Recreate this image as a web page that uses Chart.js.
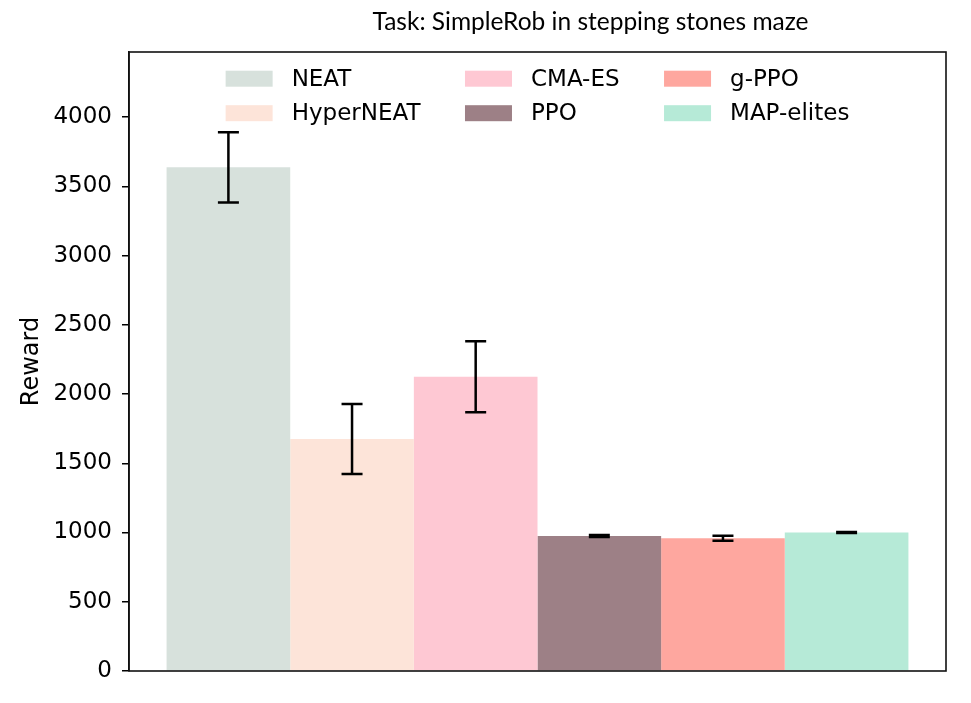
<!DOCTYPE html>
<html>
<head>
<meta charset="utf-8">
<script src="https://cdn.jsdelivr.net/npm/chart.js@4/dist/chart.umd.min.js"></script>
<style>
  html, body { margin: 0; padding: 0; background: #fff; }
  #wrap { width: 971px; height: 703px; }
</style>
</head>
<body>
<div id="wrap"><canvas id="rewardChart"></canvas></div>
<script>
// Data
const methods = ['NEAT', 'HyperNEAT', 'CMA-ES', 'PPO', 'g-PPO', 'MAP-elites'];
const rewards = [3637, 1675, 2125, 975, 958, 1000];
const rewardErr = [253, 253, 257, 8, 18, 3];
const barColors = ['#d7e1dc', '#fde4d9', '#fec8d3', '#9d8086', '#fea79f', '#b6ead7'];
const yTicks = [0, 500, 1000, 1500, 2000, 2500, 3000, 3500, 4000];
const yMax = 4470;
const titleText = 'Task: SimpleRob in stepping stones maze';
const yLabel = 'Reward';

const tickFont = '23px "DejaVu Sans"';

// error bars drawn on top of the bars
const errorBars = {
    id: 'errorBars',
    afterDatasetsDraw(chart) {
        const ctx = chart.ctx;
        const y = chart.scales.y;
        ctx.save();
        ctx.strokeStyle = '#000';
        ctx.lineWidth = 2.5;
        chart.data.datasets.forEach((ds, i) => {
            const bar = chart.getDatasetMeta(i).data[0];
            if (!bar) return;
            const v = ds.data[0];
            const e = rewardErr[i];
            const yTop = y.getPixelForValue(v + e);
            const yBot = y.getPixelForValue(v - e);
            const cap = 10.5;
            ctx.beginPath();
            ctx.moveTo(bar.x, yTop); ctx.lineTo(bar.x, yBot);
            ctx.moveTo(bar.x - cap, yTop); ctx.lineTo(bar.x + cap, yTop);
            ctx.moveTo(bar.x - cap, yBot); ctx.lineTo(bar.x + cap, yBot);
            ctx.stroke();
        });
        ctx.restore();
    }
};

// frame, title, y label and a matplotlib style legend (3 columns, column-major)
const decorations = {
    id: 'decorations',
    afterDraw(chart) {
        const ctx = chart.ctx;
        const a = chart.chartArea;
        ctx.save();

        // frame
        ctx.strokeStyle = '#111';
        ctx.lineWidth = 1.6;
        ctx.strokeRect(a.left, a.top, a.right - a.left, a.bottom - a.top);

        // title
        ctx.fillStyle = '#000';
        ctx.font = '24.5px Lato';
        ctx.textAlign = 'center';
        ctx.textBaseline = 'alphabetic';
        ctx.fillText(titleText, (a.left + a.right) / 2 + 53, 29.5);

        // y label
        ctx.save();
        ctx.translate(32, (a.top + a.bottom) / 2);
        ctx.rotate(-Math.PI / 2);
        ctx.font = '24px "DejaVu Sans"';
        ctx.textBaseline = 'middle';
        ctx.fillText(yLabel, 0, 0);
        ctx.restore();

        // legend
        ctx.font = tickFont;
        ctx.textAlign = 'left';
        ctx.textBaseline = 'middle';
        const swW = 47, swH = 16, gap = 19, colGap = 44.5, rowH = 34.5, nRows = 2;
        const nCols = Math.ceil(methods.length / nRows);
        const colW = [];
        for (let c = 0; c < nCols; c++) {
            let w = 0;
            for (let r = 0; r < nRows; r++) {
                const k = c * nRows + r;
                if (k < methods.length) w = Math.max(w, ctx.measureText(methods[k]).width);
            }
            colW.push(swW + gap + w);
        }
        const total = colW.reduce((s, w) => s + w, 0) + colGap * (nCols - 1);
        let x = (a.left + a.right) / 2 - total / 2;
        for (let c = 0; c < nCols; c++) {
            for (let r = 0; r < nRows; r++) {
                const k = c * nRows + r;
                if (k >= methods.length) continue;
                const cy = a.top + 26.7 + r * rowH;
                ctx.fillStyle = barColors[k];
                ctx.fillRect(x, cy - swH / 2, swW, swH);
                ctx.fillStyle = '#000';
                ctx.fillText(methods[k], x + swW + gap, cy + 1);
            }
            x += colW[c] + colGap;
        }
        ctx.restore();
    }
};

const ctx = document.getElementById('rewardChart').getContext('2d');
new Chart(ctx, {
    type: 'bar',
    data: {
        labels: [''],
        datasets: methods.map((m, i) => ({
            label: m,
            data: [rewards[i]],
            backgroundColor: barColors[i],
            borderWidth: 0,
            categoryPercentage: 0.908,
            barPercentage: 1.0
        }))
    },
    options: {
        responsive: true,
        maintainAspectRatio: false,
        animation: false,
        layout: { padding: { left: 0, right: 25, top: 52, bottom: 0 } },
        scales: {
            x: {
                grid: { display: false },
                border: { display: false },
                ticks: { display: false },
                afterFit(scale) { scale.height = 32; }
            },
            y: {
                min: 0,
                max: yMax,
                afterBuildTicks(scale) { scale.ticks = yTicks.map(v => ({ value: v })); },
                afterFit(scale) { scale.width = 129; },
                grid: {
                    drawOnChartArea: false,
                    drawTicks: true,
                    tickLength: 7,
                    tickColor: '#000',
                    lineWidth: 1.5
                },
                border: { display: true, color: '#111', width: 1.6 },
                ticks: {
                    color: '#000',
                    padding: 10,
                    font: { family: 'DejaVu Sans', size: 23 },
                    callback: v => String(v)
                }
            }
        },
        plugins: {
            legend: { display: false },
            tooltip: { enabled: false },
            title: { display: false }
        }
    },
    plugins: [errorBars, decorations]
});
</script>
</body>
</html>
